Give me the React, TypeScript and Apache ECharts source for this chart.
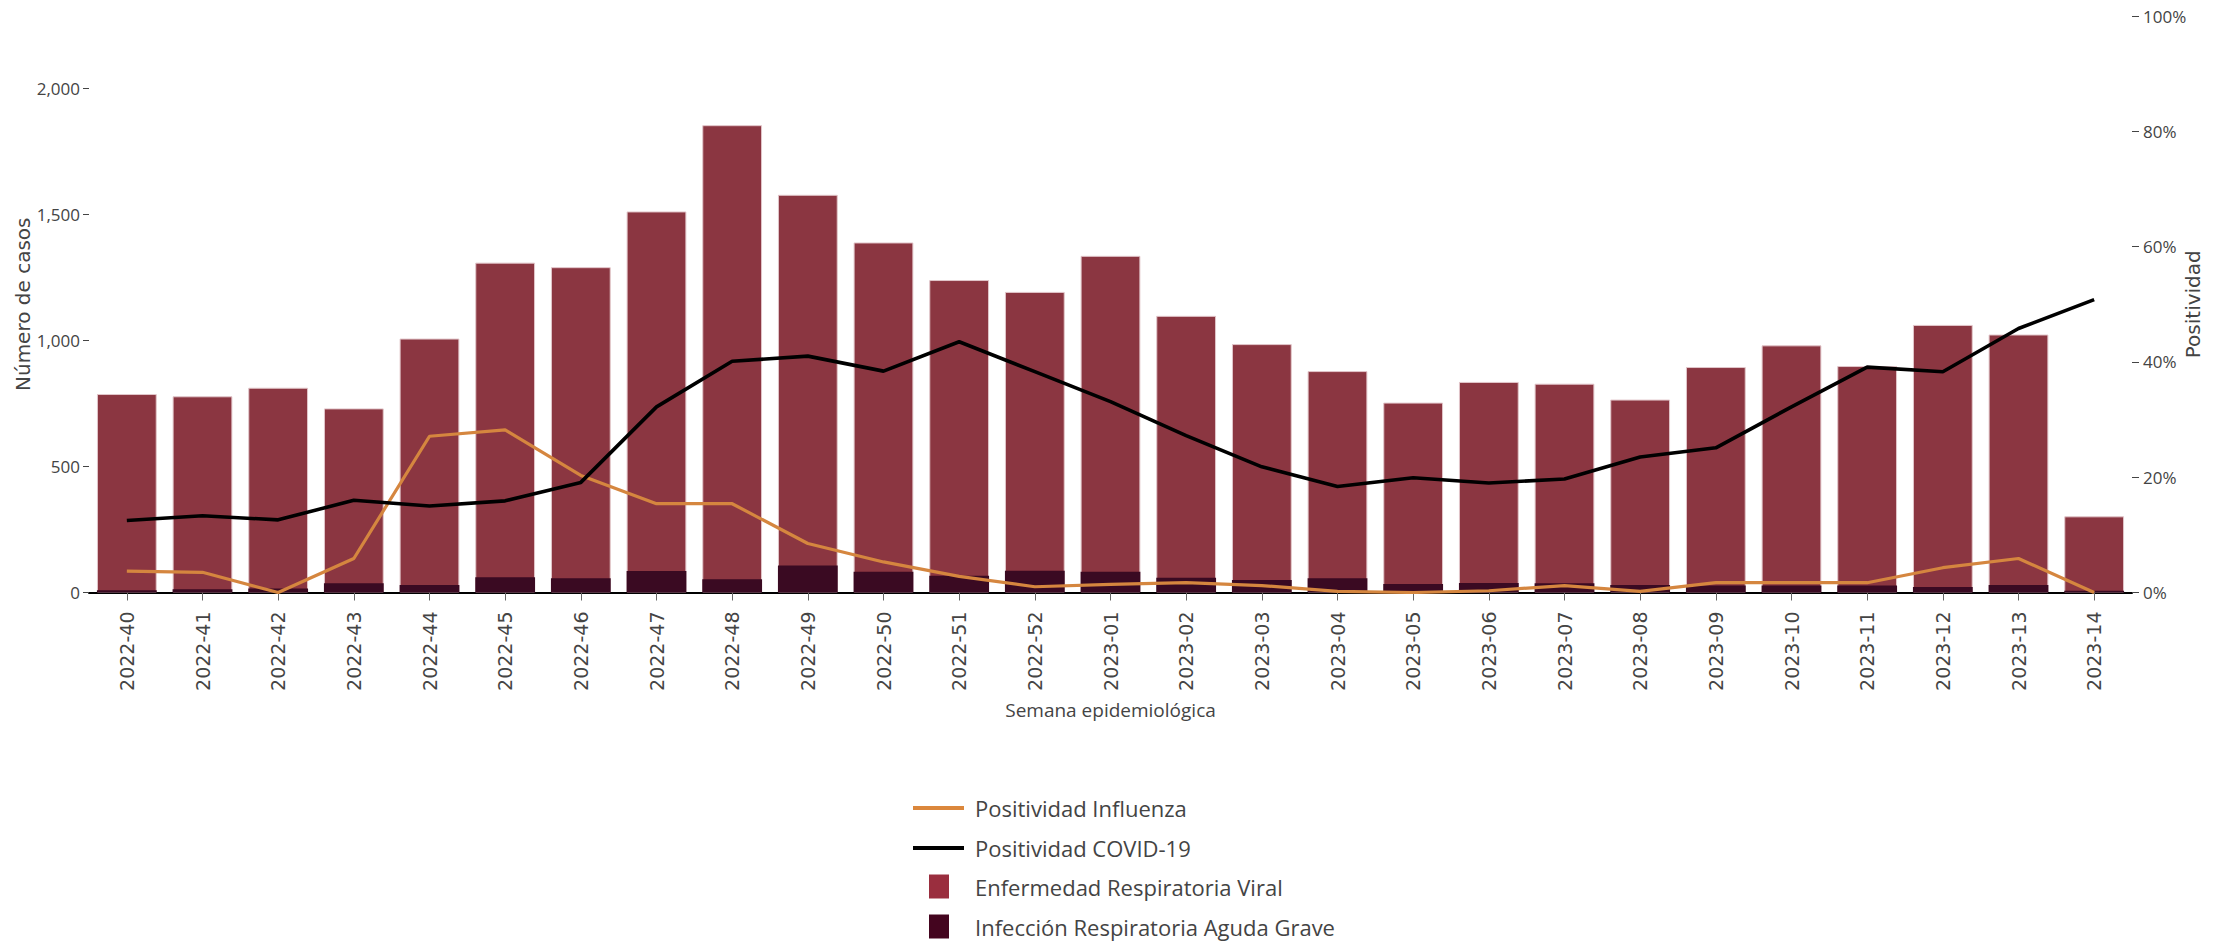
import React, { useEffect, useRef } from "react";
import * as echarts from "echarts";

const weeks = [
  "2022-40", "2022-41", "2022-42", "2022-43", "2022-44", "2022-45", "2022-46",
  "2022-47", "2022-48", "2022-49", "2022-50", "2022-51", "2022-52",
  "2023-01", "2023-02", "2023-03", "2023-04", "2023-05", "2023-06", "2023-07",
  "2023-08", "2023-09", "2023-10", "2023-11", "2023-12", "2023-13", "2023-14",
];
const ervCases = [787, 778, 812, 730, 1007, 1308, 1290, 1511, 1853, 1577, 1388, 1239, 1192, 1335, 1097, 985, 878, 753, 835, 828, 765, 894, 980, 898, 1061, 1023, 302];
const iragCases = [9, 13, 16, 37, 30, 60, 57, 85, 53, 107, 82, 66, 86, 82, 58, 50, 57, 34, 38, 37, 30, 28, 28, 28, 22, 30, 7];
const covidPct = [12.5, 13.3, 12.6, 16.0, 15.0, 15.9, 19.1, 32.2, 40.1, 41.0, 38.4, 43.5, 38.3, 33.1, 27.2, 21.8, 18.4, 19.9, 19.0, 19.7, 23.5, 25.1, 32.2, 39.1, 38.3, 45.8, 50.8];
const fluPct = [3.7, 3.5, 0, 5.9, 27.1, 28.2, 20.3, 15.4, 15.4, 8.5, 5.3, 2.8, 1.0, 1.4, 1.7, 1.2, 0.2, 0, 0.3, 1.2, 0.2, 1.7, 1.7, 1.7, 4.3, 5.9, 0];

const names = {
  flu: "Positividad Influenza",
  covid: "Positividad COVID-19",
  erv: "Enfermedad Respiratoria Viral",
  irag: "Infección Respiratoria Aguda Grave",
};

export default function App() {
  const ref = useRef<HTMLDivElement>(null);
  useEffect(() => {
    if (!ref.current) return;
    const chart = echarts.init(ref.current, null, { renderer: "svg" });
    const tickFont = { fontFamily: "Open Sans", fontSize: 17, color: "#444" };
    chart.setOption({
      animation: false,
      backgroundColor: "#fff",
      grid: { left: 89, right: 88, top: 16, bottom: 348.5, containLabel: false },
      legend: [
        {
          orient: "vertical",
          left: 913,
          top: 797,
          padding: 0,
          itemWidth: 51,
          itemHeight: 4,
          itemGap: 18,
          icon: "rect",
          textStyle: { fontFamily: "Open Sans", fontSize: 22, lineHeight: 22, color: "#444", padding: [0, 0, 0, 6] },
          data: [
            { name: names.flu, itemStyle: { color: "#DB873C" } },
            { name: names.covid, itemStyle: { color: "#000" } },
          ],
        },
        {
          orient: "vertical",
          left: 929,
          top: 874.5,
          padding: 0,
          height: 66,
          itemWidth: 20,
          itemHeight: 24,
          itemGap: 16,
          icon: "rect",
          textStyle: { fontFamily: "Open Sans", fontSize: 22, lineHeight: 22, color: "#444", padding: [0, 0, 0, 21] },
          data: [
            { name: names.erv, itemStyle: { color: "#9A2E3E", borderWidth: 0 } },
            { name: names.irag, itemStyle: { color: "#44051F", borderWidth: 0 } },
          ],
        },
      ],
      xAxis: {
        type: "category",
        data: weeks,
        name: "Semana epidemiológica",
        nameLocation: "middle",
        nameGap: 108,
        nameTextStyle: { fontFamily: "Open Sans", fontSize: 19, color: "#444" },
        axisLine: { show: true, lineStyle: { color: "#000", width: 2 } },
        axisTick: { show: true, alignWithLabel: true, length: 8, lineStyle: { color: "#666" } },
        axisLabel: { rotate: 90, margin: 19, fontFamily: "DejaVu Sans", fontSize: 19, color: "#444", interval: 0 },
      },
      yAxis: [
        {
          type: "value",
          min: 0,
          max: 2286,
          interval: 500,
          name: "Número de casos",
          nameLocation: "middle",
          nameRotate: 90,
          nameGap: 56,
          nameMoveOverlap: false,
          nameTextStyle: { fontFamily: "DejaVu Sans", fontSize: 20, color: "#444" },
          axisLine: { show: false },
          axisTick: { show: true, length: 6, lineStyle: { color: "#444" } },
          splitLine: { show: false },
          axisLabel: {
            ...tickFont,
            margin: 9,
            showMaxLabel: false,
            formatter: (v: number) => v.toLocaleString("en-US"),
          },
        },
        {
          type: "value",
          min: 0,
          max: 100,
          interval: 20,
          position: "right",
          name: "Positividad",
          nameLocation: "middle",
          nameRotate: 90,
          nameGap: 51,
          nameMoveOverlap: false,
          nameTextStyle: { fontFamily: "DejaVu Sans", fontSize: 20, color: "#444" },
          axisLine: { show: false },
          axisTick: { show: true, length: 7, lineStyle: { color: "#444" } },
          splitLine: { show: false },
          axisLabel: { ...tickFont, margin: 11, formatter: (v: number) => `${v}%` },
        },
      ],
      series: [
        {
          name: names.erv,
          type: "bar",
          data: ervCases,
          barCategoryGap: "21%",
          barGap: "-100%",
          z: 2,
          itemStyle: { color: "#8B3641", borderColor: "#e2c6ca", borderWidth: 1 },
        },
        {
          name: names.irag,
          type: "bar",
          data: iragCases,
          barCategoryGap: "21%",
          barGap: "-100%",
          z: 2,
          itemStyle: { color: "#3A0A22" },
        },
        {
          name: names.flu,
          type: "line",
          yAxisIndex: 1,
          data: fluPct,
          showSymbol: false,
          z: 4,
          lineStyle: { color: "#D5863F", width: 3.2 },
          itemStyle: { color: "#D5863F" },
        },
        {
          name: names.covid,
          type: "line",
          yAxisIndex: 1,
          data: covidPct,
          showSymbol: false,
          z: 5,
          lineStyle: { color: "#000", width: 3.6 },
          itemStyle: { color: "#000" },
        },
      ],
    });
    return () => chart.dispose();
  }, []);
  return (
    <div
      ref={ref}
      style={{ position: "fixed", left: 0, top: 0, width: 2220, height: 941 }}
    />
  );
}
